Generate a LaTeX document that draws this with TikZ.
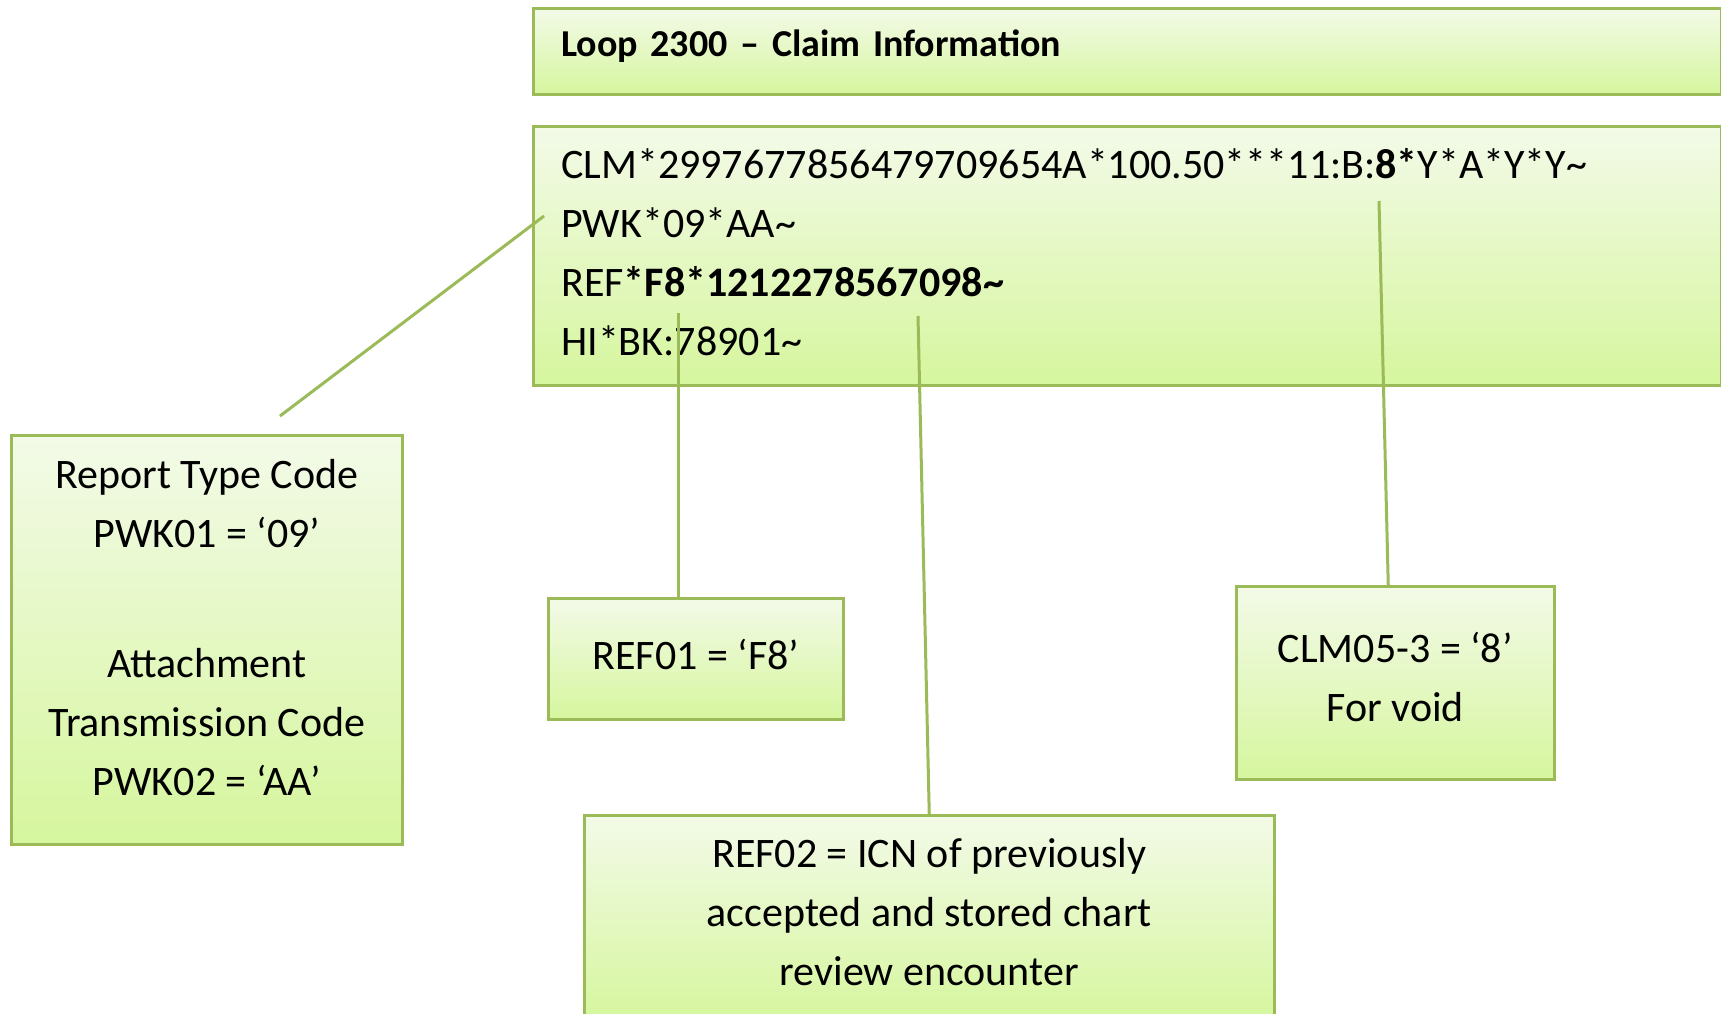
\documentclass[tikz,border=0pt]{standalone}
\usepackage{fontspec}
\setmainfont{Carlito}
\usepackage{tikz}
\usetikzlibrary{calc}

\definecolor{boxtop}{RGB}{243,250,232}
\definecolor{boxbot}{RGB}{214,246,158}
\definecolor{boxline}{RGB}{155,187,89}

\begin{document}
\begin{tikzpicture}[x=1pt, y=-1pt,
	infobox/.style={draw=boxline, line width=2.5pt, rectangle,
		top color=boxtop, bottom color=boxbot, anchor=north west,
		inner sep=0pt, font=\fontsize{42}{59}\selectfont},
	link/.style={draw=boxline, line width=3pt}]
	\useasboundingbox (0,0) rectangle (1721,1013);

	\node[infobox, minimum height=86pt, text width=1132pt, inner xsep=28pt, text depth=17pt,
		align=left, font=\bfseries\fontsize{38}{46}\selectfont] (loop) at (532,7)
		{Loop 2300 – Claim Information};
	\node[infobox, minimum height=259pt, text width=1132pt, inner xsep=28pt, text depth=184pt,
		align=left] (segs) at (532,125)
		{CLM*2997677856479709654A*100.50***11:B:\textbf{8*}Y*A*Y*Y\textasciitilde\\
		PWK*09*AA\textasciitilde\\
		REF\textbf{*F8*1212278567098\textasciitilde}\\
		HI*BK:78901\textasciitilde};

	\node[infobox, minimum width=391pt, minimum height=409pt, text depth=24pt, align=center] (pwkbox) at (10,434)
		{Report Type Code\\ PWK01 = ‘09’\\[71pt] Attachment\\ Transmission Code\\ PWK02 = ‘AA’};
	\node[infobox, minimum width=295pt, minimum height=121pt, text depth=9pt] (refone) at (547,597)
		{REF01 = ‘F8’};
	\node[infobox, minimum width=318pt, minimum height=193pt, text depth=12pt, align=center] (clmbox) at (1235,585)
		{CLM05-3 = ‘8’\\ For void};
	\node[infobox, minimum width=690pt, minimum height=205pt, text depth=11pt, align=center] (reftwo) at (583,814)
		{REF02 = ICN of previously\\ accepted and stored chart\\ review encounter};

	\coordinate (pwkfoot) at (280,416);
	\coordinate (pwkend) at (544,216);
	\coordinate (f8end) at (678,313);
	\coordinate (icnend) at (918,316);
	\coordinate (eightend) at (1379,201);

	\draw[link] (pwkfoot) -- (pwkend);
	\draw[link] (f8end) -- (f8end |- refone.north);
	\draw[link] (icnend) -- (reftwo.north);
	\draw[link] (eightend) -- ($(clmbox.north)+(-7,0)$);
\end{tikzpicture}
\end{document}
